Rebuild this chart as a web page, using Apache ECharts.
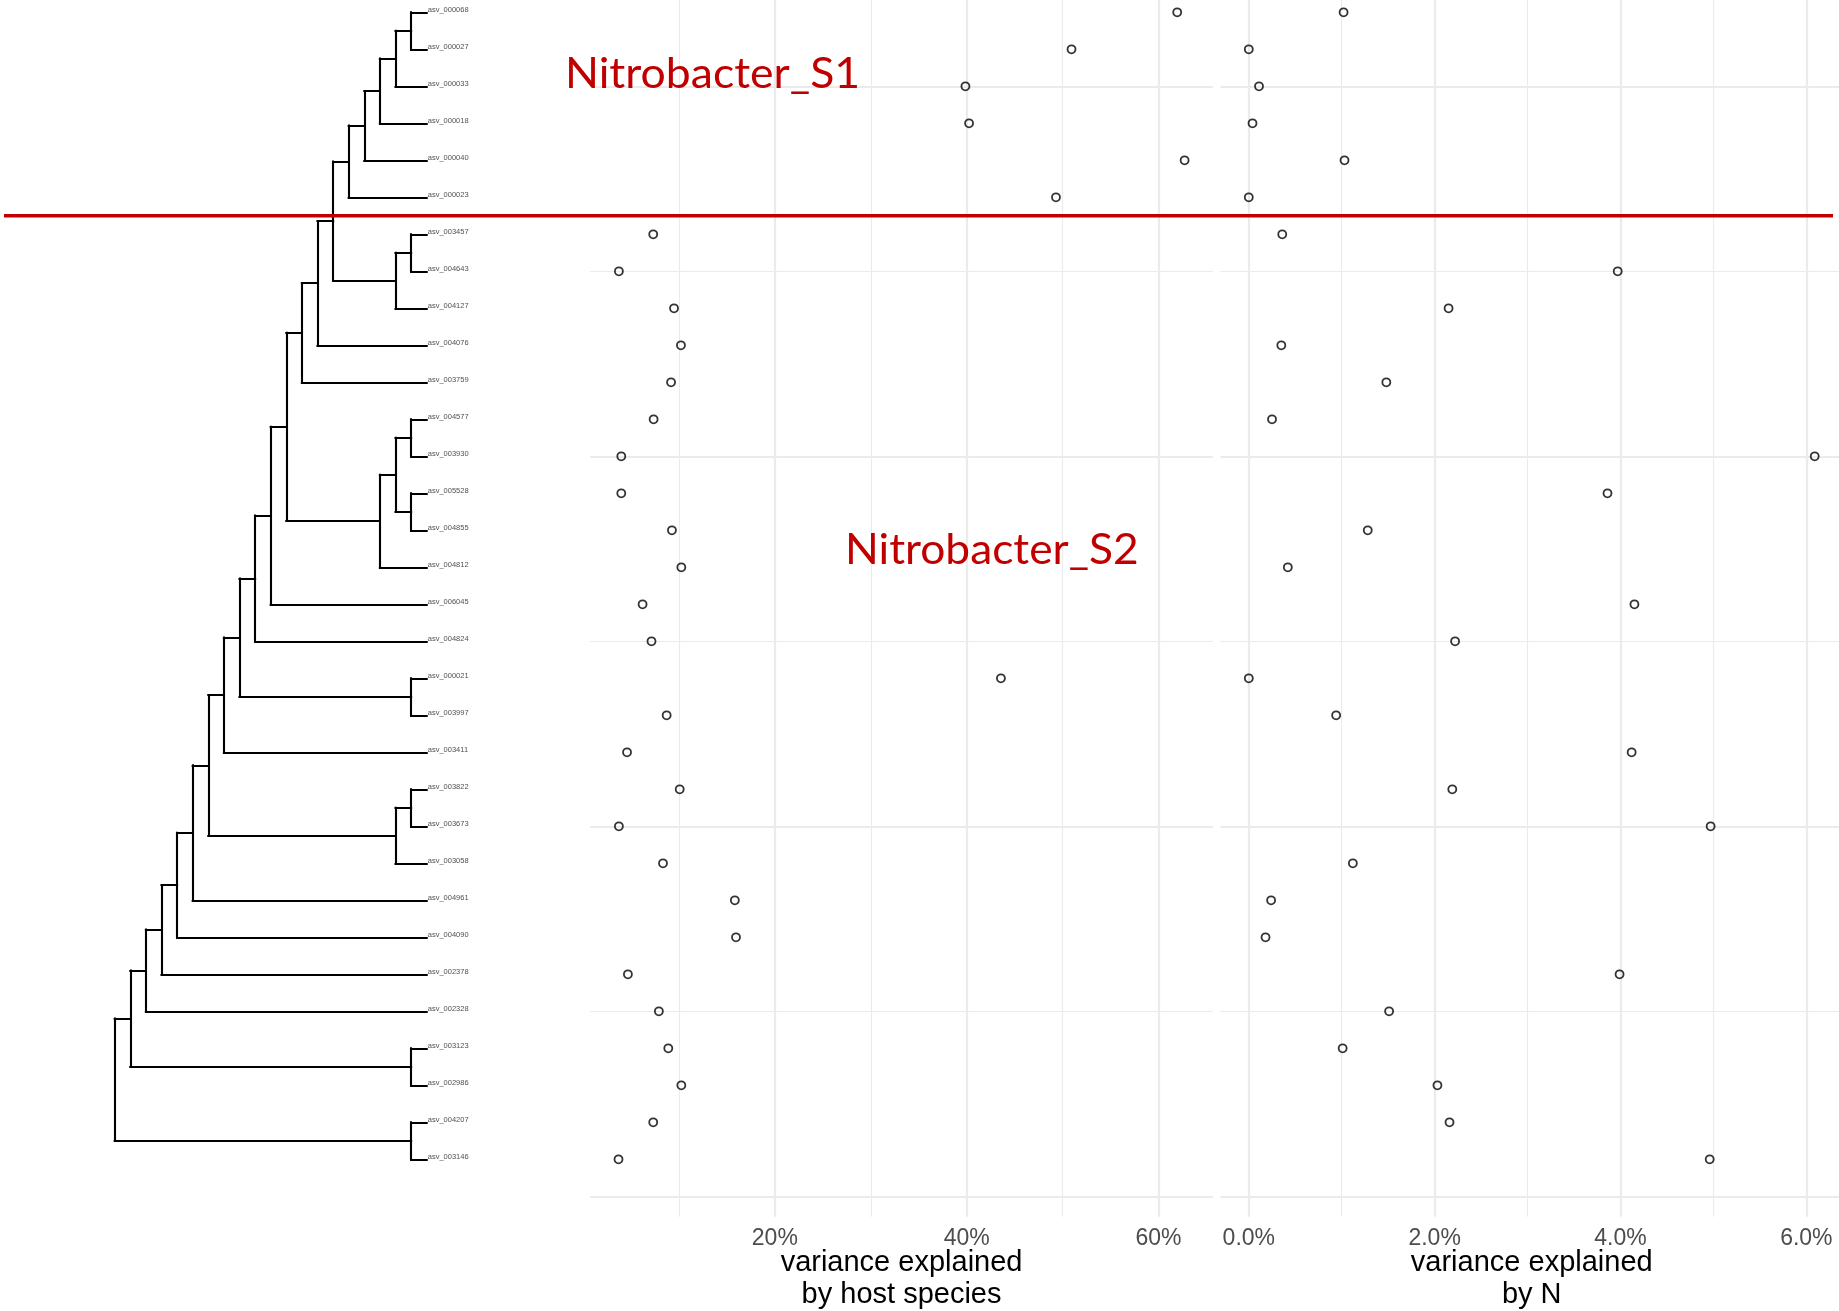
<!DOCTYPE html>
<html><head><meta charset="utf-8">
<script src="https://cdn.jsdelivr.net/npm/echarts@6/dist/echarts.min.js"></script>
<style>html,body{margin:0;padding:0;background:#fff}#c{width:1839px;height:1311px}</style>
</head><body><div id="c"></div>
<script>
// ---------- data ----------
const tipLabels = [
  'asv_000068','asv_000027','asv_000033','asv_000018','asv_000040','asv_000023',
  'asv_003457','asv_004643','asv_004127','asv_004076','asv_003759','asv_004577',
  'asv_003930','asv_005528','asv_004855','asv_004812','asv_006045','asv_004824',
  'asv_000021','asv_003997','asv_003411','asv_003822','asv_003673','asv_003058',
  'asv_004961','asv_004090','asv_002378','asv_002328','asv_003123','asv_002986',
  'asv_004207','asv_003146'
];
const hostSpeciesPct = [
  61.95, 50.93, 39.87, 40.25, 62.72, 49.31,
  7.32, 3.74, 9.49, 10.21, 9.18, 7.36,
  3.99, 3.99, 9.27, 10.25, 6.21, 7.14,
  43.57, 8.72, 4.59, 10.08, 3.74, 8.34,
  15.83, 15.95, 4.68, 7.91, 8.89, 10.25,
  7.32, 3.70
];
const nitrogenPct = [
  1.02, 0.00, 0.11, 0.04, 1.03, 0.00,
  0.36, 3.97, 2.15, 0.35, 1.48, 0.25,
  6.09, 3.86, 1.28, 0.42, 4.15, 2.22,
  0.00, 0.94, 4.12, 2.19, 4.97, 1.12,
  0.24, 0.18, 3.99, 1.51, 1.01, 2.03,
  2.16, 4.96
];
// tree topology: [node, child1 (upper), child2 (lower)]
const treeMerges = [
  ['A','asv_000068','asv_000027'], ['B','A','asv_000033'], ['C','B','asv_000018'],
  ['D','C','asv_000040'], ['E','D','asv_000023'],
  ['F','asv_003457','asv_004643'], ['G','F','asv_004127'], ['H','E','G'],
  ['I','H','asv_004076'], ['J','I','asv_003759'],
  ['K','asv_004577','asv_003930'], ['L','asv_005528','asv_004855'], ['M','K','L'],
  ['N','M','asv_004812'], ['O','J','N'], ['P','O','asv_006045'], ['Q','P','asv_004824'],
  ['R','asv_000021','asv_003997'], ['S','Q','R'], ['T','S','asv_003411'],
  ['U','asv_003822','asv_003673'], ['V','U','asv_003058'], ['W','T','V'],
  ['X','W','asv_004961'], ['Y','X','asv_004090'], ['Z','Y','asv_002378'],
  ['AA','Z','asv_002328'], ['BB','asv_003123','asv_002986'], ['CC','AA','BB'],
  ['DD','asv_004207','asv_003146'], ['root','CC','DD']
];
const hostTicks = [20, 40, 60];
const hostMinor = [10, 30, 50];
const nTicks = [0, 2, 4, 6];
const nMinor = [1, 3, 5];
const rowMajor = [0, 10, 20, 30];
const rowMinor = [5, 15, 25];
const groupLabels = ['Nitrobacter_S1', 'Nitrobacter_S2'];
const groupBoundary = ['asv_000023', 'asv_003457'];
const hostTitle = 'variance explained\nby host species';
const nTitle = 'variance explained\nby N';

// ---------- derived ----------
const nRows = tipLabels.length;
const children = {};
treeMerges.forEach(([n, a, b]) => { children[n] = [a, b]; });
const yOf = {}, hOf = {};
tipLabels.forEach((t, i) => { yOf[t] = nRows - i; });
function calc(node) {
  const ch = children[node];
  if (!ch) { hOf[node] = 0; return; }
  ch.forEach(calc);
  hOf[node] = 1 + Math.max(hOf[ch[0]], hOf[ch[1]]);
  yOf[node] = (yOf[ch[0]] + yOf[ch[1]]) / 2;
}
calc('root');
const rootH = hOf['root'];
const xOf = n => rootH - hOf[n];
const segs = [];
function walk(node) {
  const ch = children[node];
  if (!ch) return;
  const x = xOf(node);
  segs.push([[x, yOf[ch[0]]], [x, yOf[ch[1]]]]);
  ch.forEach(c => { segs.push([[x, yOf[c]], [xOf(c), yOf[c]]]); walk(c); });
}
walk('root');

function expand(arr) {
  const lo = Math.min(...arr), hi = Math.max(...arr), r = hi - lo;
  return [lo - 0.05 * r, hi + 0.05 * r];
}
const hostRange = expand(hostSpeciesPct);
const nRange = expand(nitrogenPct);
const yMin = 1 - 0.05 * (nRows - 1), yMax = nRows + 0.05 * (nRows - 1);

// ---------- layout ----------
const TOP = -45.05, H = 1261.7;
const GRID_COL = '#ebebeb';
const majorStyle = { color: GRID_COL, width: 2.2, type: 'solid' };
const minorStyle = { color: GRID_COL, width: 1.1, type: 'solid' };
function gridLines(major, minor, axisKey) {
  return [
    ...minor.map(v => ({ [axisKey]: v, lineStyle: minorStyle })),
    ...major.map(v => ({ [axisKey]: v, lineStyle: majorStyle }))
  ];
}
const rowLines = gridLines(rowMajor, rowMinor, 'yAxis');

const chart = echarts.init(document.getElementById('c'), null, { renderer: 'canvas' });

const labelStyle = { fontSize: 23, color: '#4d4d4d', fontFamily: 'Liberation Sans', margin: 11 };
const nameStyle = { fontSize: 29, color: '#000', fontFamily: 'Liberation Sans', lineHeight: 32 };

const option = {
  animation: false,
  backgroundColor: '#fff',
  grid: [
    { left: 114.7, width: 312, top: TOP, height: H, outerBoundsMode: 'none' },
    { left: 590.2, width: 622.7, top: TOP, height: H, outerBoundsMode: 'none' },
    { left: 1220.5, width: 622.5, top: TOP, height: H, outerBoundsMode: 'none' }
  ],
  xAxis: [
    { type: 'value', gridIndex: 0, min: 0, max: rootH, show: false },
    { type: 'value', gridIndex: 1, min: hostRange[0], max: hostRange[1],
      axisLine: { show: false }, axisTick: { show: false }, splitLine: { show: false },
      axisLabel: Object.assign({ customValues: hostTicks, formatter: v => v + '%' }, labelStyle),
      name: hostTitle, nameLocation: 'middle', nameGap: 30, nameMoveOverlap: false,
      nameTextStyle: nameStyle },
    { type: 'value', gridIndex: 2, min: nRange[0], max: nRange[1],
      axisLine: { show: false }, axisTick: { show: false }, splitLine: { show: false },
      axisLabel: Object.assign({ customValues: nTicks, formatter: v => v.toFixed(1) + '%' }, labelStyle),
      name: nTitle, nameLocation: 'middle', nameGap: 30, nameMoveOverlap: false,
      nameTextStyle: nameStyle }
  ],
  yAxis: [0, 1, 2].map(g => ({
    type: 'value', gridIndex: g, min: yMin, max: yMax,
    axisLine: { show: false }, axisTick: { show: false }, axisLabel: { show: false },
    splitLine: { show: false }
  })),
  series: [
    {
      type: 'lines', coordinateSystem: 'cartesian2d', xAxisIndex: 0, yAxisIndex: 0,
      silent: true, z: 3,
      lineStyle: { color: '#000', width: 2.1, opacity: 1, cap: 'square', curveness: 0 },
      data: segs.map(c => ({ coords: c }))
    },
    {
      type: 'scatter', xAxisIndex: 0, yAxisIndex: 0, silent: true, z: 3,
      symbolSize: 0.1, itemStyle: { color: 'rgba(0,0,0,0)' },
      data: tipLabels.map((t, i) => ({ name: t, value: [xOf(t), yOf[t]] })),
      label: { show: true, position: 'right', distance: 1, offset: [0, -2], formatter: '{b}',
        fontSize: 7.5, color: '#222', fontFamily: 'Liberation Sans' }
    },
    {
      type: 'scatter', xAxisIndex: 1, yAxisIndex: 1, silent: true, z: 5,
      symbol: 'circle', symbolSize: 8,
      itemStyle: { color: 'rgba(0,0,0,0)', borderColor: '#000', borderWidth: 1.8 },
      data: hostSpeciesPct.map((v, i) => [v, yOf[tipLabels[i]]]),
      markLine: { silent: true, symbol: 'none', animation: false, z: 1,
        label: { show: false }, emphasis: { disabled: true },
        lineStyle: minorStyle,
        data: [...gridLines(hostTicks, hostMinor, 'xAxis'), ...rowLines] }
    },
    {
      type: 'scatter', xAxisIndex: 2, yAxisIndex: 2, silent: true, z: 5,
      symbol: 'circle', symbolSize: 8,
      itemStyle: { color: 'rgba(0,0,0,0)', borderColor: '#000', borderWidth: 1.8 },
      data: nitrogenPct.map((v, i) => [v, yOf[tipLabels[i]]]),
      markLine: { silent: true, symbol: 'none', animation: false, z: 1,
        label: { show: false }, emphasis: { disabled: true },
        lineStyle: minorStyle,
        data: [...gridLines(nTicks, nMinor, 'xAxis'), ...rowLines] }
    }
  ]
};
chart.setOption(option);

// annotations
const yB = (yOf[groupBoundary[0]] + yOf[groupBoundary[1]]) / 2;
const py = chart.convertToPixel({ yAxisIndex: 0 }, yB);
chart.setOption({
  graphic: [
    { type: 'line', z: 100, silent: true,
      shape: { x1: 4, y1: py, x2: 1833, y2: py },
      style: { stroke: '#C00000', lineWidth: 3.5 } },
    { type: 'text', z: 100, silent: true, x: 565, y: 74, scaleX: 1.06,
      style: { text: groupLabels[0], fill: '#C00000', fontSize: 42, fontFamily: 'Lato',
        align: 'left', verticalAlign: 'middle' } },
    { type: 'text', z: 100, silent: true, x: 845, y: 550, scaleX: 1.055,
      style: { text: groupLabels[1], fill: '#C00000', fontSize: 42, fontFamily: 'Lato',
        align: 'left', verticalAlign: 'middle' } }
  ]
});
</script>
</body></html>
